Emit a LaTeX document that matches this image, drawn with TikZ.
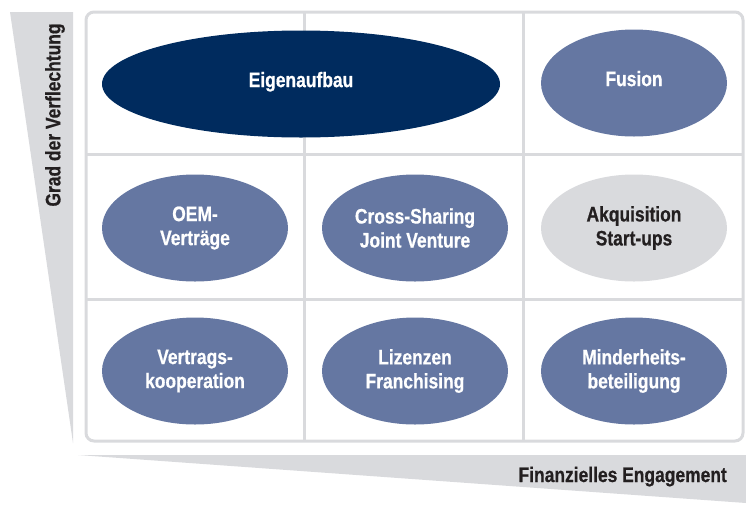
\documentclass[tikz,border=0pt]{standalone}
\usepackage{fontspec}
\setmainfont{Liberation Sans}[FakeStretch=0.83, BoldFeatures={FakeBold=0.6}]
\usetikzlibrary{shapes.geometric}
\definecolor{navy}{RGB}{0,43,94}
\definecolor{midblue}{RGB}{101,119,162}
\definecolor{lgray}{RGB}{217,218,221}
\definecolor{txtdark}{RGB}{35,31,32}

\begin{document}
\begin{tikzpicture}[x=1pt,y=-1pt,
  oval/.style={ellipse, fill=midblue, text=white, minimum width=186pt, minimum height=107pt,
    inner sep=0pt, align=center, font=\fontsize{21}{24}\selectfont\bfseries},
  oneline/.style={text depth=9pt},
  axislabel/.style={text=txtdark, inner sep=0pt, font=\fontsize{21}{24}\selectfont\bfseries},
  gridline/.style={lgray, line width=3pt}]
\useasboundingbox (0,0) rectangle (746,512);
% wedges
\fill[lgray] (10,12) -- (73,12) -- (73,443) -- cycle ;
\fill[lgray] (78,455) -- (746,455) -- (746,503) -- cycle ;
% frame and grid
\draw[gridline, rounded corners=8pt] (86,12) rectangle (743,441) ;
\draw[gridline] (304,12) -- (304,441) ;
\draw[gridline] (523,12) -- (523,441) ;
\draw[gridline] (86,154) -- (743,154) ;
\draw[gridline] (86,299) -- (743,299) ;
% ovals
\node[oval, oneline, fill=navy, minimum width=398pt] (eigen) at (301,84) {Eigenaufbau} ;
\node[oval, oneline] (fusion) at (634,83) {Fusion} ;
\node[oval] (oem) at (195,228) {OEM-\\Verträge} ;
\node[oval] (cross) at (415,228) {Cross-Sharing\\Joint Venture} ;
\node[oval, fill=lgray, text=txtdark] (akq) at (634,228) {Akquisition\\Start-ups} ;
\node[oval] (koop) at (195,371) {Vertrags-\\kooperation} ;
\node[oval] (lizenz) at (415,371) {Lizenzen\\Franchising} ;
\node[oval] (minder) at (634,371) {Minderheits-\\beteiligung} ;
% axis labels
\node[axislabel, rotate=90] (grad) at (55,115) {Grad der Verflechtung} ;
\node[axislabel, anchor=base east] (finanz) at (727,482) {Finanzielles Engagement} ;
\end{tikzpicture}
\end{document}
